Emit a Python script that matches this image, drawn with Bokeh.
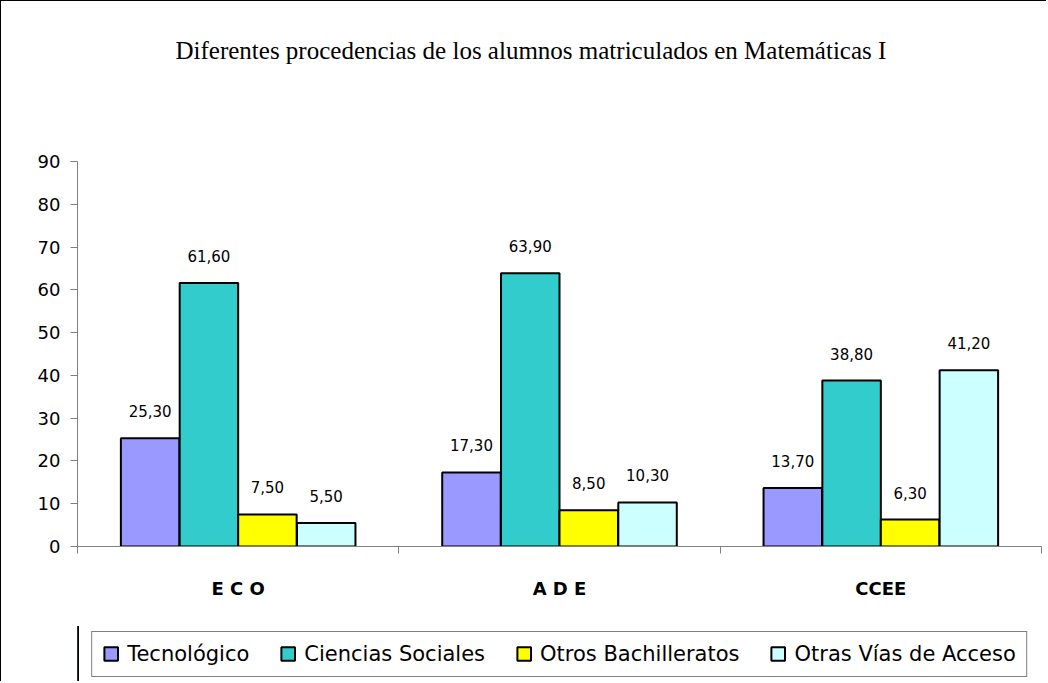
from bokeh.plotting import figure
from bokeh.models import (Range1d, FixedTicker, Legend, LegendItem, Title, ColumnDataSource)
from bokeh.layouts import column
from bokeh.core.properties import value
from bokeh.embed import file_html
from bokeh.resources import INLINE

# ---------------- data ----------------
categories = ["E C O", "A D E", "CCEE"]
series_names = ["Tecnológico", "Ciencias Sociales", "Otros Bachilleratos", "Otras Vías de Acceso"]
tecnologico = [25.3, 17.3, 13.7]
ciencias_sociales = [61.6, 63.9, 38.8]
otros_bachilleratos = [7.5, 8.5, 6.3]
otras_vias = [5.5, 10.3, 41.2]
y_ticks = [0, 10, 20, 30, 40, 50, 60, 70, 80, 90]
title_text = "Diferentes procedencias de los alumnos matriculados en Matemáticas I"

# ---------------- styles ----------------
colors = ["#9999FF", "#33CCCC", "#FFFF00", "#CCFFFF"]
offsets = [-0.274, -0.091, 0.091, 0.274]
bar_w = 0.182

n = len(categories)
centers = [i + 0.5 for i in range(n)]
bounds = [float(i) for i in range(n + 1)]

series = [tecnologico, ciencias_sociales, otros_bachilleratos, otras_vias]

# ---------------- main chart ----------------
p = figure(width=1046, height=626,
           x_range=Range1d(0, n), y_range=Range1d(0, 90),
           output_backend="svg", toolbar_location=None,
           min_border_left=76, min_border_right=6,
           min_border_top=156, min_border_bottom=81)
p.styles = {"border-left": "1px solid black", "border-top": "1px solid black"}
p.xgrid.visible = False
p.ygrid.visible = False
p.outline_line_color = None
p.background_fill_color = "white"
p.border_fill_color = "white"

# title: a blank spacer next to the frame, then the real title further out
p.add_layout(Title(text=" ", text_font_size="10px", standoff=52), "above")
p.add_layout(Title(text=title_text, align="left", offset=98,
                   text_font="Liberation Serif", text_font_size="25px",
                   text_font_style="normal", text_color="black", standoff=66), "above")

# y axis
ya = p.yaxis[0]
ya.ticker = FixedTicker(ticks=y_ticks)
ya.major_tick_out = 7
ya.major_tick_in = 0
ya.minor_tick_out = 0
ya.minor_tick_in = 0
ya.axis_line_color = "#808080"
ya.major_tick_line_color = "#808080"
ya.major_label_text_font = "DejaVu Sans"
ya.major_label_text_font_size = "18px"
ya.major_label_text_color = "black"
ya.major_label_standoff = 10

# x axis: ticks at category boundaries, labels at centers
xa = p.xaxis[0]
xa.ticker = FixedTicker(ticks=centers, minor_ticks=bounds)
xa.major_label_overrides = {c: name for c, name in zip(centers, categories)}
xa.major_tick_line_color = None
xa.major_tick_out = 0
xa.major_tick_in = 0
xa.minor_tick_out = 7
xa.minor_tick_in = 0
xa.minor_tick_line_color = "#808080"
xa.axis_line_color = "#808080"
xa.major_label_text_font = "DejaVu Sans"
xa.major_label_text_font_style = "bold"
xa.major_label_text_font_size = "18px"
xa.major_label_text_color = "black"
xa.major_label_standoff = 24

# bars + value labels
sources = []
for s, off, col in zip(series, offsets, colors):
    src = ColumnDataSource(dict(
        x=[c + off for c in centers], top=s,
        lbl=[f"{v:.2f}".replace(".", ",") for v in s]))
    sources.append(src)
    p.vbar(x="x", top="top", width=bar_w, source=src,
           fill_color=col, line_color="black", line_width=2)
    p.text(x="x", y="top", text="lbl", source=src,
           text_align="center", text_baseline="middle", y_offset=-27,
           text_font=value("DejaVu Sans"), text_font_size="15px", text_color="black")

# ---------------- legend strip ----------------
# same series, plotted off-range so only the legend keys are visible
lg = figure(width=1046, height=55, title=None,
            x_range=Range1d(100, 101), y_range=Range1d(0, 1),
            output_backend="svg", toolbar_location=None,
            x_axis_location=None, y_axis_location=None,
            min_border_left=0, min_border_right=0, min_border_top=0, min_border_bottom=0)
lg.styles = {"border-left": "1px solid black"}
lg.grid.visible = False
lg.outline_line_color = None
lg.background_fill_color = "white"
lg.border_fill_color = "white"

items = []
for src, col, name in zip(sources, colors, series_names):
    r = lg.vbar(x="x", top="top", width=bar_w, source=src,
                fill_color=col, line_color="black", line_width=2)
    items.append(LegendItem(label=name, renderers=[r]))

legend = Legend(items=items, orientation="horizontal", location="center",
                label_text_font="DejaVu Sans", label_text_font_size="21px",
                label_text_color="black",
                glyph_width=17, glyph_height=17, label_standoff=8, spacing=30,
                padding=10, margin=0,
                border_line_color="black", border_line_width=1,
                background_fill_color="white", background_fill_alpha=1.0)
lg.add_layout(legend)

layout = column(p, lg, spacing=0)
open("out.html", "w").write(file_html(layout, INLINE))
